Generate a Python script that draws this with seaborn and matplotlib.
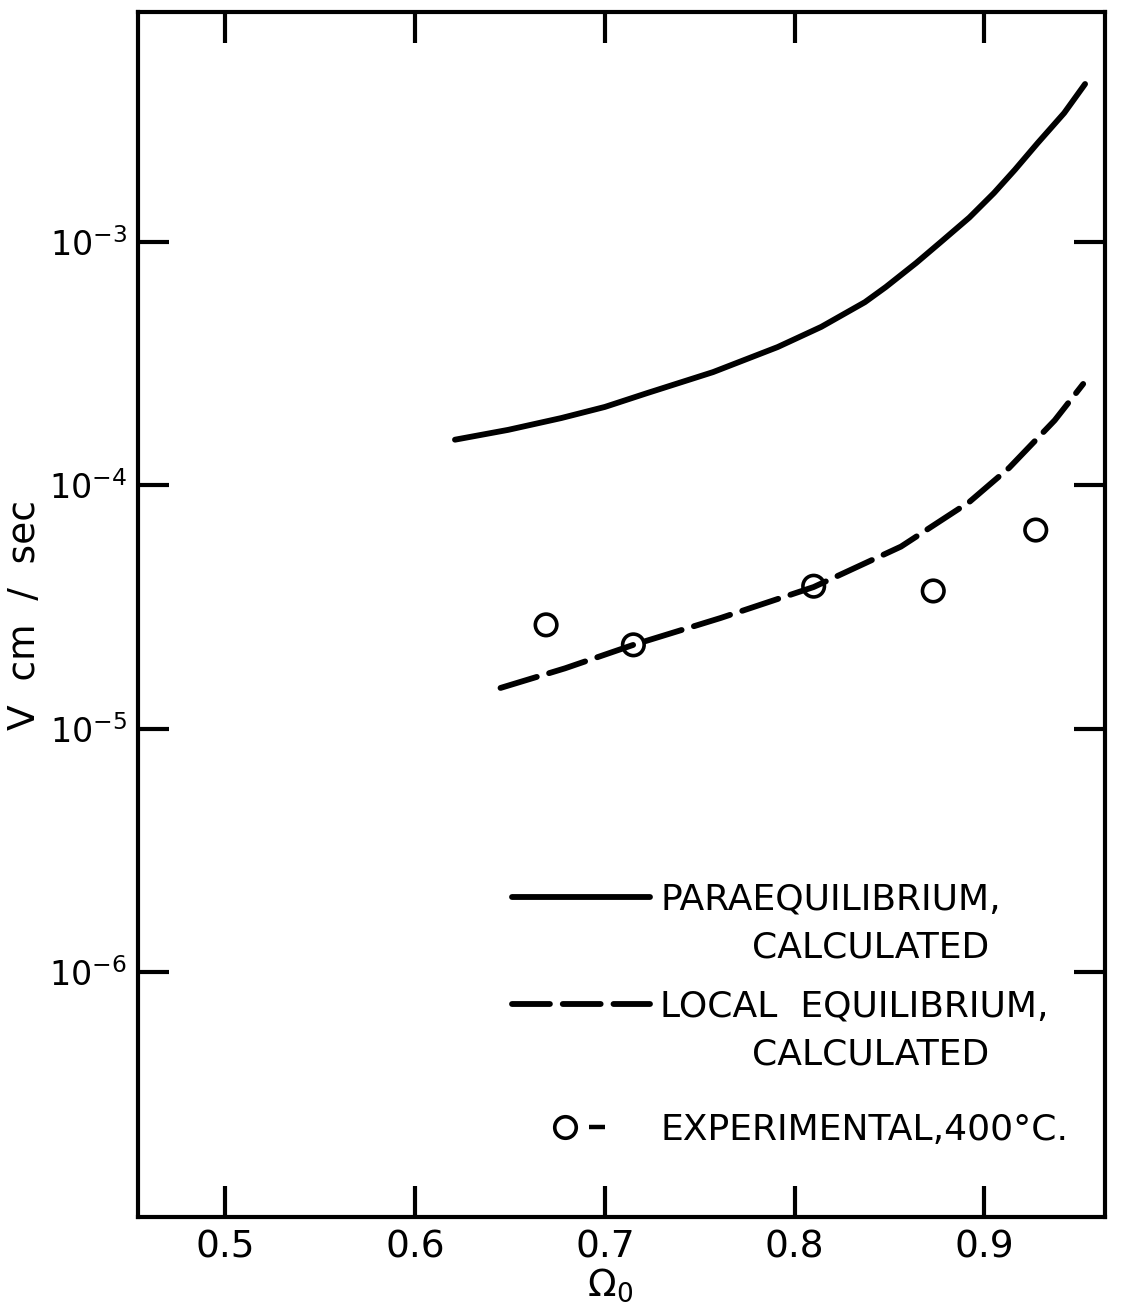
import numpy as np
import pandas as pd
import matplotlib
matplotlib.use("Agg")
import matplotlib.pyplot as plt
from matplotlib.lines import Line2D
from matplotlib.legend_handler import HandlerTuple
from matplotlib.ticker import NullLocator
import seaborn as sns

# ---- data ----
# Paraequilibrium, calculated (solid curve)
para_omega = [0.621, 0.649, 0.677, 0.700, 0.722, 0.757, 0.791, 0.814, 0.837,
              0.848, 0.864, 0.877, 0.892, 0.905, 0.916, 0.928, 0.942, 0.953]
para_v = [1.54e-4, 1.69e-4, 1.89e-4, 2.10e-4, 2.39e-4, 2.92e-4, 3.70e-4, 4.48e-4,
          5.66e-4, 6.53e-4, 8.20e-4, 1.00e-3, 1.26e-3, 1.59e-3, 1.98e-3, 2.55e-3,
          3.39e-3, 4.46e-3]

# Local equilibrium, calculated (dashed curve)
local_omega = [0.645, 0.679, 0.715, 0.761, 0.810, 0.856, 0.892, 0.913, 0.937, 0.952]
local_v = [1.47e-5, 1.77e-5, 2.21e-5, 2.85e-5, 3.82e-5, 5.60e-5, 8.54e-5, 1.18e-4,
           1.85e-4, 2.61e-4]

# Experimental, 400 C (open circles)
exp_omega = [0.669, 0.715, 0.810, 0.873, 0.927]
exp_v = [2.67e-5, 2.21e-5, 3.85e-5, 3.68e-5, 6.55e-5]

# axis ticks / labels
x_ticks = [0.5, 0.6, 0.7, 0.8, 0.9]
x_tick_labels = ["0.5", "0.6", "0.7", "0.8", "0.9"]
y_ticks = [1e-6, 1e-5, 1e-4, 1e-3]
y_tick_labels = [r"$\mathregular{10^{-6}}$", r"$\mathregular{10^{-5}}$",
                 r"$\mathregular{10^{-4}}$", r"$\mathregular{10^{-3}}$"]

para_label = ["PARAEQUILIBRIUM,", "        CALCULATED"]
local_label = ["LOCAL  EQUILIBRIUM,", "        CALCULATED"]
exp_label = ["EXPERIMENTAL,400°C."]

# ---- style ----
sns.set_theme(style="ticks")
plt.rcParams["font.family"] = ["DejaVu Sans"]
plt.rcParams["mathtext.fontset"] = "dejavusans"

fig = plt.figure(figsize=(11.24, 13.11), dpi=100, facecolor="white")
ax = fig.add_axes([0.1228, 0.0717, 0.8603, 0.9191])
ax.set_facecolor("white")
ax.set_yscale("log")

LW = 4.2
DASH = (0, (6.5, 2.2))

sns.lineplot(x=para_omega, y=para_v, ax=ax, color="black", linewidth=LW,
             solid_capstyle="round", estimator=None, sort=False)
sns.lineplot(x=local_omega, y=local_v, ax=ax, color="black", linewidth=LW,
             linestyle=DASH, dash_capstyle="round", estimator=None, sort=False)
sns.scatterplot(x=exp_omega, y=exp_v, ax=ax, marker="o", s=240,
                facecolors="none", edgecolor="black", linewidth=2.6, zorder=3)

ax.set_xlim(0.454, 0.9635)
ax.set_ylim(10 ** -7.007, 10 ** -2.055)

ax.set_xticks(x_ticks)
ax.set_xticklabels(x_tick_labels)
ax.set_yticks(y_ticks)
ax.set_yticklabels(y_tick_labels)
ax.yaxis.set_minor_locator(NullLocator())
ax.xaxis.set_minor_locator(NullLocator())

ax.tick_params(axis="both", which="major", direction="in", length=22, width=3,
               top=True, right=True, labeltop=False, labelright=False,
               color="black", labelcolor="black")
ax.tick_params(axis="x", labelsize=27, pad=9)
ax.tick_params(axis="y", labelsize=24, pad=8)
for sp in ax.spines.values():
    sp.set_linewidth(3)
    sp.set_color("black")
    sp.set_visible(True)

ax.set_ylabel("V  cm  /  sec", fontsize=27, color="black")
ax.yaxis.set_label_coords(-0.098, 0.5)
ax.set_xlabel(r"$\Omega_0$", fontsize=27, color="black")
ax.xaxis.set_label_coords(0.488, -0.041)

# ---- legend (three blocks, placed where the reference shows them) ----
h_para = Line2D([], [], color="black", linewidth=LW, solid_capstyle="round")
h_local = Line2D([], [], color="black", linewidth=LW, linestyle=DASH,
                 dash_capstyle="round")
h_blank = Line2D([], [], linestyle="none")
h_circ = Line2D([], [], marker="o", markersize=15.5, markerfacecolor="none",
                markeredgecolor="black", markeredgewidth=2.6, linestyle="none")
h_dash = Line2D([], [], marker="_", markersize=11, markeredgewidth=3.2,
                color="black", linestyle="none")

common = dict(loc="upper left", frameon=False, fontsize=26, handlelength=3.83,
              handletextpad=0.28, labelspacing=0.38, borderpad=0,
              borderaxespad=0,
              handler_map={tuple: HandlerTuple(ndivide=2, pad=-2.08)})

leg1 = ax.legend(handles=[h_para, h_blank], labels=para_label,
                 bbox_to_anchor=(0.3868, 0.2775), **common)
ax.add_artist(leg1)
leg2 = ax.legend(handles=[h_local, h_blank], labels=local_label,
                 bbox_to_anchor=(0.3868, 0.1885), **common)
ax.add_artist(leg2)
leg3 = ax.legend(handles=[(h_circ, h_dash)], labels=exp_label,
                 bbox_to_anchor=(0.3868, 0.0863), **common)
for lg in (leg1, leg2, leg3):
    for t in lg.get_texts():
        t.set_color("black")

fig.savefig("out.png", dpi=100, facecolor="white")
